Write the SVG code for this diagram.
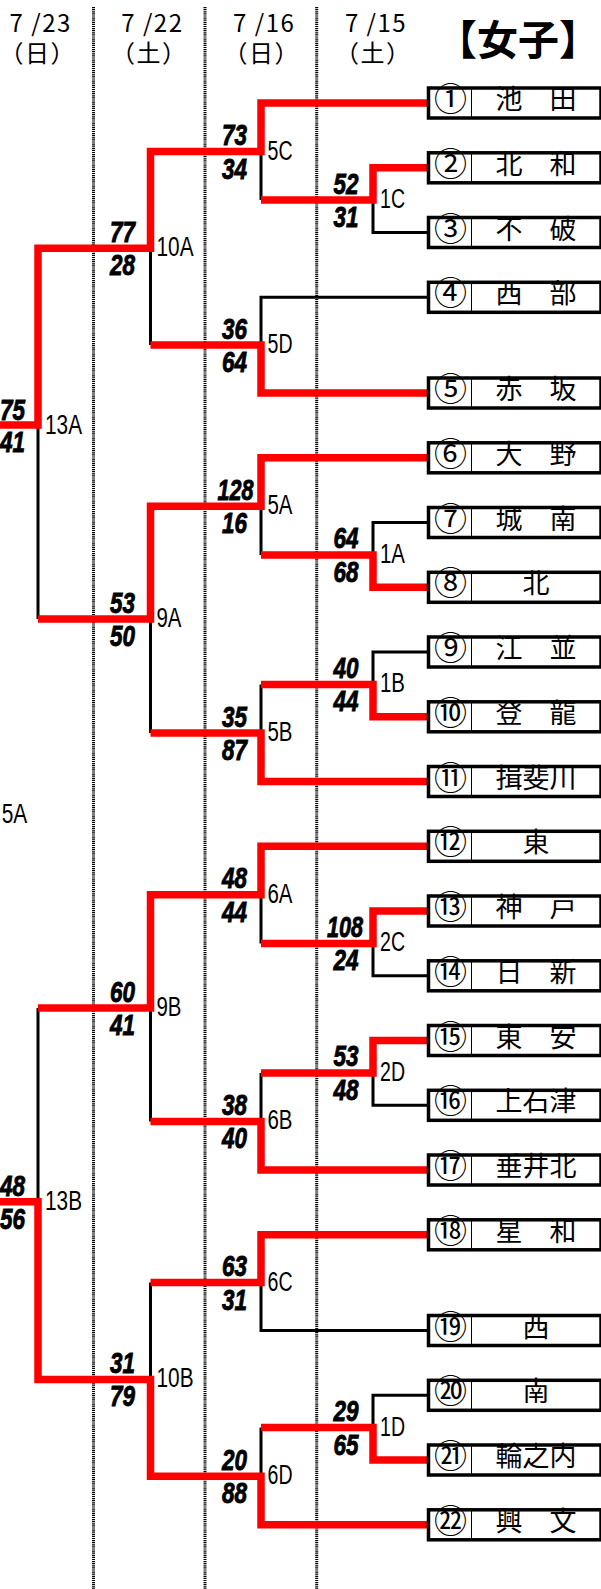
<svg xmlns="http://www.w3.org/2000/svg" width="601" height="1589" viewBox="0 0 601 1589">
<style>
.sc{font-family:"Liberation Sans",Arial,sans-serif;font-weight:bold;font-style:italic;font-size:30px;text-anchor:middle;fill:#000;stroke:#000;stroke-width:0.9}
.lb{font-family:"Liberation Sans",Arial,sans-serif;font-size:27px;fill:#000}
.hd{font-family:"Noto Sans CJK JP",sans-serif;font-size:24px;fill:#000;letter-spacing:1.5px}
.ti{font-family:"Noto Sans CJK JP",sans-serif;font-size:41px;font-weight:bold;fill:#000}
.bx{fill:#fff;stroke:#000;stroke-width:3.5}
.dv{stroke:#000;stroke-width:1}
.nm{font-family:"Noto Sans CJK JP",sans-serif;font-size:27px;text-anchor:middle;fill:#000}
.cn{font-family:"Noto Sans CJK JP",sans-serif;font-size:33px;text-anchor:middle;fill:#000}
.blk{fill:none;stroke:#000;stroke-width:3}
.red{fill:none;stroke:#f00;stroke-width:7.5;stroke-linejoin:miter}
.dot{stroke:#000;stroke-width:3;stroke-dasharray:1.2 0.9}
</style>
<rect width="601" height="1589" fill="#fff"/>
<g id="grid">
<line class="dot" x1="93.5" y1="7" x2="93.5" y2="1589"/>
<line class="dot" x1="205" y1="7" x2="205" y2="1589"/>
<line class="dot" x1="316.7" y1="7" x2="316.7" y2="1589"/>
</g>
<g id="headers">
<text class="hd"><tspan x="40.7" y="31.5" text-anchor="middle">7 /23</tspan><tspan x="-0.5" y="61.5">（日）</tspan></text>
<text class="hd"><tspan x="152.4" y="31.5" text-anchor="middle">7 /22</tspan><tspan x="111" y="61.5">（土）</tspan></text>
<text class="hd"><tspan x="264.2" y="31.5" text-anchor="middle">7 /16</tspan><tspan x="223.5" y="61.5">（日）</tspan></text>
<text class="hd"><tspan x="376" y="31.5" text-anchor="middle">7 /15</tspan><tspan x="335" y="61.5">（土）</tspan></text>
<text class="ti" x="436" y="55">【女子】</text>
</g>
<g id="connectors">
<path class="blk" d="M427,232.5H373V200.1 M261,151.6V200.1 M427,297.3H261V345.1 M150.5,248.3V345.1 M427,522.5H373V554.9 M261,506.3V554.9 M427,652H373V684.4 M261,684.4V733 M150.5,619V733 M38,425V619 M261,894.8V943.4 M427,975.8H373V943.4 M427,1105.3H373V1072.9 M261,1072.9V1121.4 M150.5,1008.1V1121.4 M38,1008.1V1201.7 M427,1330.5H261V1282.6 M427,1395.3H373V1427.6 M261,1427.6V1476.2 M150.5,1282.6V1379.4"/>
<path class="red" d="M427,103H261V151.6H150.5V248.3H38V425H0"/>
<path class="red" d="M427,167.8H373V200.1H261"/>
<path class="red" d="M427,393H261V345.1H150.5"/>
<path class="red" d="M427,457.8H261V506.3H150.5V619H38"/>
<path class="red" d="M427,587.3H373V554.9H261"/>
<path class="red" d="M427,716.8H373V684.4H261"/>
<path class="red" d="M427,781.5H261V733H150.5"/>
<path class="red" d="M427,846.3H261V894.8H150.5V1008.1H38"/>
<path class="red" d="M427,911H373V943.4H261"/>
<path class="red" d="M427,1040.5H373V1072.9H261"/>
<path class="red" d="M427,1170H261V1121.4H150.5"/>
<path class="red" d="M427,1234.8H261V1282.6H150.5"/>
<path class="red" d="M427,1524.8H261V1476.2H150.5V1379.4H38V1201.7H0"/>
<path class="red" d="M427,1460H373V1427.6H261"/>
</g>
<g id="m1C"><text class="lb" x="380" y="208.1" textLength="25" lengthAdjust="spacingAndGlyphs">1C</text><text class="sc" x="346" y="193.6" textLength="25" lengthAdjust="spacingAndGlyphs">52</text><text class="sc" x="346" y="227.1" textLength="25" lengthAdjust="spacingAndGlyphs">31</text></g>
<g id="m1A"><text class="lb" x="380" y="562.9" textLength="25" lengthAdjust="spacingAndGlyphs">1A</text><text class="sc" x="346" y="548.4" textLength="25" lengthAdjust="spacingAndGlyphs">64</text><text class="sc" x="346" y="581.9" textLength="25" lengthAdjust="spacingAndGlyphs">68</text></g>
<g id="m1B"><text class="lb" x="380" y="692.4" textLength="25" lengthAdjust="spacingAndGlyphs">1B</text><text class="sc" x="346" y="677.9" textLength="25" lengthAdjust="spacingAndGlyphs">40</text><text class="sc" x="346" y="711.4" textLength="25" lengthAdjust="spacingAndGlyphs">44</text></g>
<g id="m2C"><text class="lb" x="380" y="951.4" textLength="25" lengthAdjust="spacingAndGlyphs">2C</text><text class="sc" x="345" y="936.9" textLength="36" lengthAdjust="spacingAndGlyphs">108</text><text class="sc" x="346" y="970.4" textLength="25" lengthAdjust="spacingAndGlyphs">24</text></g>
<g id="m2D"><text class="lb" x="380" y="1080.9" textLength="25" lengthAdjust="spacingAndGlyphs">2D</text><text class="sc" x="346" y="1066.4" textLength="25" lengthAdjust="spacingAndGlyphs">53</text><text class="sc" x="346" y="1099.9" textLength="25" lengthAdjust="spacingAndGlyphs">48</text></g>
<g id="m1D"><text class="lb" x="380" y="1435.6" textLength="25" lengthAdjust="spacingAndGlyphs">1D</text><text class="sc" x="346" y="1421.1" textLength="25" lengthAdjust="spacingAndGlyphs">29</text><text class="sc" x="346" y="1454.6" textLength="25" lengthAdjust="spacingAndGlyphs">65</text></g>
<g id="m5C"><text class="lb" x="267.5" y="159.6" textLength="25" lengthAdjust="spacingAndGlyphs">5C</text><text class="sc" x="234.5" y="145.1" textLength="25" lengthAdjust="spacingAndGlyphs">73</text><text class="sc" x="234.5" y="178.6" textLength="25" lengthAdjust="spacingAndGlyphs">34</text></g>
<g id="m5D"><text class="lb" x="267.5" y="353.1" textLength="25" lengthAdjust="spacingAndGlyphs">5D</text><text class="sc" x="234.5" y="338.6" textLength="25" lengthAdjust="spacingAndGlyphs">36</text><text class="sc" x="234.5" y="372.1" textLength="25" lengthAdjust="spacingAndGlyphs">64</text></g>
<g id="m5A"><text class="lb" x="267.5" y="514.3" textLength="25" lengthAdjust="spacingAndGlyphs">5A</text><text class="sc" x="235.5" y="499.8" textLength="36" lengthAdjust="spacingAndGlyphs">128</text><text class="sc" x="234.5" y="533.3" textLength="25" lengthAdjust="spacingAndGlyphs">16</text></g>
<g id="m5B"><text class="lb" x="267.5" y="741" textLength="25" lengthAdjust="spacingAndGlyphs">5B</text><text class="sc" x="234.5" y="726.5" textLength="25" lengthAdjust="spacingAndGlyphs">35</text><text class="sc" x="234.5" y="760" textLength="25" lengthAdjust="spacingAndGlyphs">87</text></g>
<g id="m6A"><text class="lb" x="267.5" y="902.8" textLength="25" lengthAdjust="spacingAndGlyphs">6A</text><text class="sc" x="234.5" y="888.3" textLength="25" lengthAdjust="spacingAndGlyphs">48</text><text class="sc" x="234.5" y="921.8" textLength="25" lengthAdjust="spacingAndGlyphs">44</text></g>
<g id="m6B"><text class="lb" x="267.5" y="1129.4" textLength="25" lengthAdjust="spacingAndGlyphs">6B</text><text class="sc" x="234.5" y="1114.9" textLength="25" lengthAdjust="spacingAndGlyphs">38</text><text class="sc" x="234.5" y="1148.4" textLength="25" lengthAdjust="spacingAndGlyphs">40</text></g>
<g id="m6C"><text class="lb" x="267.5" y="1290.6" textLength="25" lengthAdjust="spacingAndGlyphs">6C</text><text class="sc" x="234.5" y="1276.1" textLength="25" lengthAdjust="spacingAndGlyphs">63</text><text class="sc" x="234.5" y="1309.6" textLength="25" lengthAdjust="spacingAndGlyphs">31</text></g>
<g id="m6D"><text class="lb" x="267.5" y="1484.2" textLength="25" lengthAdjust="spacingAndGlyphs">6D</text><text class="sc" x="234.5" y="1469.7" textLength="25" lengthAdjust="spacingAndGlyphs">20</text><text class="sc" x="234.5" y="1503.2" textLength="25" lengthAdjust="spacingAndGlyphs">88</text></g>
<g id="m10A"><text class="lb" x="156.5" y="256.3" textLength="37" lengthAdjust="spacingAndGlyphs">10A</text><text class="sc" x="122.5" y="241.8" textLength="25" lengthAdjust="spacingAndGlyphs">77</text><text class="sc" x="122.5" y="275.3" textLength="25" lengthAdjust="spacingAndGlyphs">28</text></g>
<g id="m9A"><text class="lb" x="156.5" y="627" textLength="25" lengthAdjust="spacingAndGlyphs">9A</text><text class="sc" x="122.5" y="612.5" textLength="25" lengthAdjust="spacingAndGlyphs">53</text><text class="sc" x="122.5" y="646" textLength="25" lengthAdjust="spacingAndGlyphs">50</text></g>
<g id="m9B"><text class="lb" x="156.5" y="1016.1" textLength="25" lengthAdjust="spacingAndGlyphs">9B</text><text class="sc" x="122.5" y="1001.6" textLength="25" lengthAdjust="spacingAndGlyphs">60</text><text class="sc" x="122.5" y="1035.1" textLength="25" lengthAdjust="spacingAndGlyphs">41</text></g>
<g id="m10B"><text class="lb" x="156.5" y="1387.4" textLength="37" lengthAdjust="spacingAndGlyphs">10B</text><text class="sc" x="122.5" y="1372.9" textLength="25" lengthAdjust="spacingAndGlyphs">31</text><text class="sc" x="122.5" y="1406.4" textLength="25" lengthAdjust="spacingAndGlyphs">79</text></g>
<g id="m13A"><text class="lb" x="45" y="434" textLength="37" lengthAdjust="spacingAndGlyphs">13A</text><text class="sc" x="12.5" y="419.5" textLength="25" lengthAdjust="spacingAndGlyphs">75</text><text class="sc" x="12.5" y="452" textLength="25" lengthAdjust="spacingAndGlyphs">41</text></g>
<g id="m13B"><text class="lb" x="45" y="1209.7" textLength="37" lengthAdjust="spacingAndGlyphs">13B</text><text class="sc" x="12.5" y="1196.2" textLength="25" lengthAdjust="spacingAndGlyphs">48</text><text class="sc" x="12.5" y="1228.7" textLength="25" lengthAdjust="spacingAndGlyphs">56</text></g>
<g id="m15A"><text class="lb" x="1.7" y="823" textLength="25.6" lengthAdjust="spacingAndGlyphs">5A</text></g>
<g id="t1"><rect class="bx" x="428.5" y="88" width="172.5" height="30"/><line class="dv" x1="471.5" y1="88" x2="471.5" y2="118"/><text class="cn" x="450.5" y="111">①</text><text class="nm" x="536" y="109">池　田</text></g>
<g id="t2"><rect class="bx" x="428.5" y="152.8" width="172.5" height="30"/><line class="dv" x1="471.5" y1="152.8" x2="471.5" y2="182.8"/><text class="cn" x="450.5" y="175.8">②</text><text class="nm" x="536" y="173.8">北　和</text></g>
<g id="t3"><rect class="bx" x="428.5" y="217.5" width="172.5" height="30"/><line class="dv" x1="471.5" y1="217.5" x2="471.5" y2="247.5"/><text class="cn" x="450.5" y="240.5">③</text><text class="nm" x="536" y="238.5">不　破</text></g>
<g id="t4"><rect class="bx" x="428.5" y="282.3" width="172.5" height="30"/><line class="dv" x1="471.5" y1="282.3" x2="471.5" y2="312.3"/><text class="cn" x="450.5" y="305.3">④</text><text class="nm" x="536" y="303.3">西　部</text></g>
<g id="t5"><rect class="bx" x="428.5" y="378" width="172.5" height="30"/><line class="dv" x1="471.5" y1="378" x2="471.5" y2="408"/><text class="cn" x="450.5" y="401">⑤</text><text class="nm" x="536" y="399">赤　坂</text></g>
<g id="t6"><rect class="bx" x="428.5" y="442.8" width="172.5" height="30"/><line class="dv" x1="471.5" y1="442.8" x2="471.5" y2="472.8"/><text class="cn" x="450.5" y="465.8">⑥</text><text class="nm" x="536" y="463.8">大　野</text></g>
<g id="t7"><rect class="bx" x="428.5" y="507.5" width="172.5" height="30"/><line class="dv" x1="471.5" y1="507.5" x2="471.5" y2="537.5"/><text class="cn" x="450.5" y="530.5">⑦</text><text class="nm" x="536" y="528.5">城　南</text></g>
<g id="t8"><rect class="bx" x="428.5" y="572.3" width="172.5" height="30"/><line class="dv" x1="471.5" y1="572.3" x2="471.5" y2="602.3"/><text class="cn" x="450.5" y="595.3">⑧</text><text class="nm" x="536" y="593.3">北</text></g>
<g id="t9"><rect class="bx" x="428.5" y="637" width="172.5" height="30"/><line class="dv" x1="471.5" y1="637" x2="471.5" y2="667"/><text class="cn" x="450.5" y="660">⑨</text><text class="nm" x="536" y="658">江　並</text></g>
<g id="t10"><rect class="bx" x="428.5" y="701.8" width="172.5" height="30"/><line class="dv" x1="471.5" y1="701.8" x2="471.5" y2="731.8"/><text class="cn" x="450.5" y="724.8">⑩</text><text class="nm" x="536" y="722.8">登　龍</text></g>
<g id="t11"><rect class="bx" x="428.5" y="766.5" width="172.5" height="30"/><line class="dv" x1="471.5" y1="766.5" x2="471.5" y2="796.5"/><text class="cn" x="450.5" y="789.5">⑪</text><text class="nm" x="536" y="787.5">揖斐川</text></g>
<g id="t12"><rect class="bx" x="428.5" y="831.3" width="172.5" height="30"/><line class="dv" x1="471.5" y1="831.3" x2="471.5" y2="861.3"/><text class="cn" x="450.5" y="854.3">⑫</text><text class="nm" x="536" y="852.3">東</text></g>
<g id="t13"><rect class="bx" x="428.5" y="896" width="172.5" height="30"/><line class="dv" x1="471.5" y1="896" x2="471.5" y2="926"/><text class="cn" x="450.5" y="919">⑬</text><text class="nm" x="536" y="917">神　戸</text></g>
<g id="t14"><rect class="bx" x="428.5" y="960.8" width="172.5" height="30"/><line class="dv" x1="471.5" y1="960.8" x2="471.5" y2="990.8"/><text class="cn" x="450.5" y="983.8">⑭</text><text class="nm" x="536" y="981.8">日　新</text></g>
<g id="t15"><rect class="bx" x="428.5" y="1025.5" width="172.5" height="30"/><line class="dv" x1="471.5" y1="1025.5" x2="471.5" y2="1055.5"/><text class="cn" x="450.5" y="1048.5">⑮</text><text class="nm" x="536" y="1046.5">東　安</text></g>
<g id="t16"><rect class="bx" x="428.5" y="1090.3" width="172.5" height="30"/><line class="dv" x1="471.5" y1="1090.3" x2="471.5" y2="1120.3"/><text class="cn" x="450.5" y="1113.3">⑯</text><text class="nm" x="536" y="1111.3">上石津</text></g>
<g id="t17"><rect class="bx" x="428.5" y="1155" width="172.5" height="30"/><line class="dv" x1="471.5" y1="1155" x2="471.5" y2="1185"/><text class="cn" x="450.5" y="1178">⑰</text><text class="nm" x="536" y="1176">垂井北</text></g>
<g id="t18"><rect class="bx" x="428.5" y="1219.8" width="172.5" height="30"/><line class="dv" x1="471.5" y1="1219.8" x2="471.5" y2="1249.8"/><text class="cn" x="450.5" y="1242.8">⑱</text><text class="nm" x="536" y="1240.8">星　和</text></g>
<g id="t19"><rect class="bx" x="428.5" y="1315.5" width="172.5" height="30"/><line class="dv" x1="471.5" y1="1315.5" x2="471.5" y2="1345.5"/><text class="cn" x="450.5" y="1338.5">⑲</text><text class="nm" x="536" y="1336.5">西</text></g>
<g id="t20"><rect class="bx" x="428.5" y="1380.3" width="172.5" height="30"/><line class="dv" x1="471.5" y1="1380.3" x2="471.5" y2="1410.3"/><text class="cn" x="450.5" y="1403.3">⑳</text><text class="nm" x="536" y="1401.3">南</text></g>
<g id="t21"><rect class="bx" x="428.5" y="1445" width="172.5" height="30"/><line class="dv" x1="471.5" y1="1445" x2="471.5" y2="1475"/><text class="cn" x="450.5" y="1468">㉑</text><text class="nm" x="536" y="1466">輪之内</text></g>
<g id="t22"><rect class="bx" x="428.5" y="1509.8" width="172.5" height="30"/><line class="dv" x1="471.5" y1="1509.8" x2="471.5" y2="1539.8"/><text class="cn" x="450.5" y="1532.8">㉒</text><text class="nm" x="536" y="1530.8">興　文</text></g>
</svg>
